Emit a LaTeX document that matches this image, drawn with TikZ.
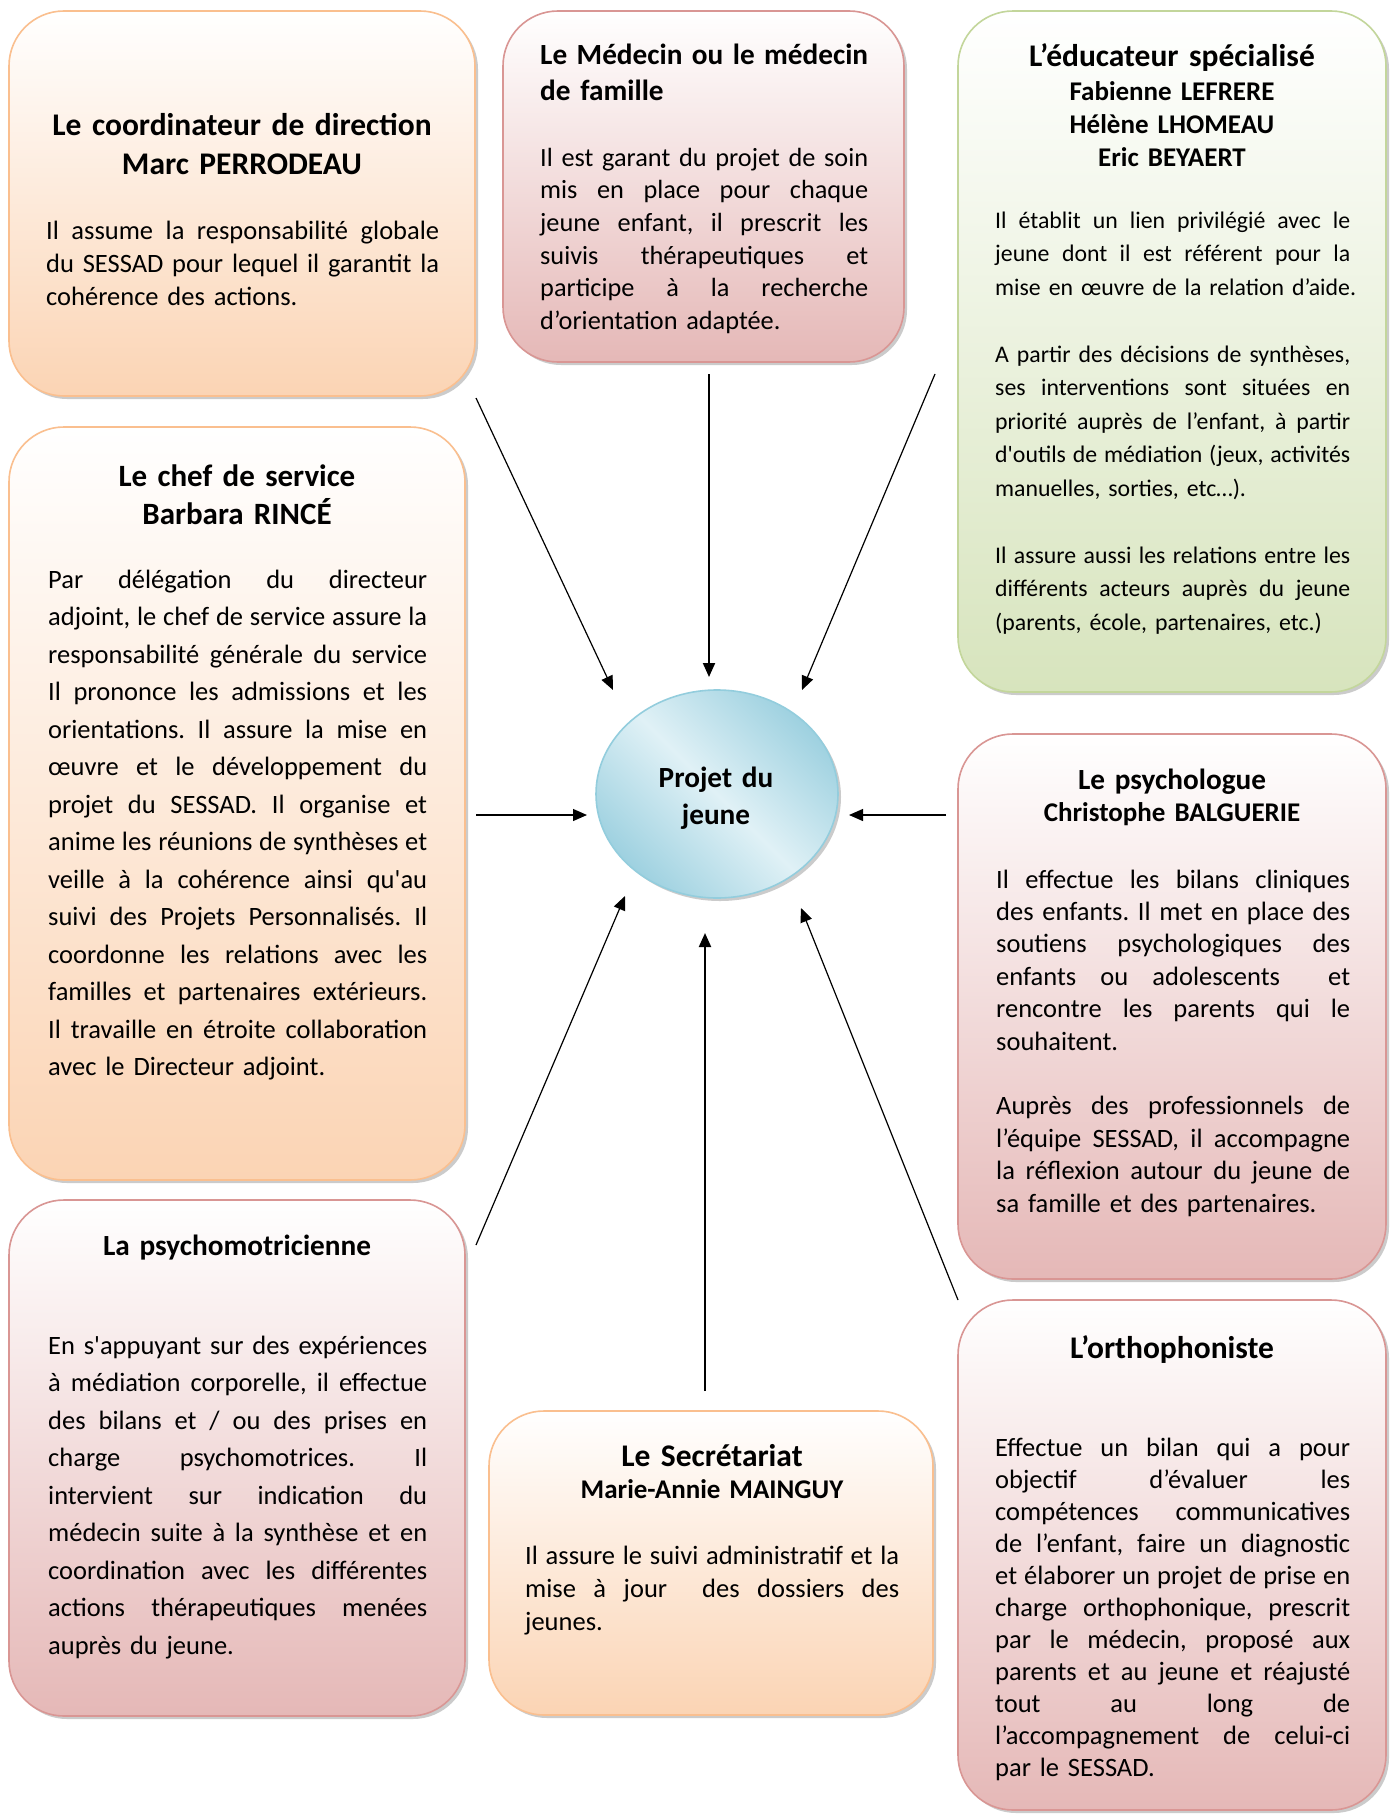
\documentclass[tikz,border=0pt]{standalone}
\usepackage{fontspec}
\setmainfont{Carlito}
\usetikzlibrary{arrows.meta,shapes.geometric,shadows}
\definecolor{orline}{RGB}{250,191,143}
\definecolor{orfill}{RGB}{251,212,180}
\definecolor{pkline}{RGB}{217,150,148}
\definecolor{pkfill}{RGB}{229,184,183}
\definecolor{grline}{RGB}{195,214,155}
\definecolor{grfill}{RGB}{215,228,189}
\definecolor{blline}{RGB}{147,205,221}
\definecolor{bldark}{RGB}{158,209,224}
\definecolor{bllight}{RGB}{224,241,246}
\newdimen\lw
\newcommand\jl[1]{\hbox to\lw{\spaceskip=.226em plus 1fil minus .06em\relax #1}}
\newcommand\lastl[1]{\hbox{#1}}
\newcommand\blankl{\vskip\baselineskip}
\newcommand\sq{\textquotesingle}
\frenchspacing
\tikzset{
  card/.style={rectangle, rounded corners=55pt, line width=1.6pt, inner sep=0pt,
    drop shadow={shadow xshift=3pt, shadow yshift=-3pt, fill=black!40}},
  orcard/.style={card, draw=orline, top color=white, bottom color=orfill},
  pkcard/.style={card, draw=pkline, top color=white, bottom color=pkfill},
  grcard/.style={card, draw=grline, top color=white, bottom color=grfill},
  ttl/.style={inner sep=0pt, anchor=base, text width=420pt, align=center},
  bodytxt/.style={inner sep=0pt, anchor=base west},
  arr/.style={-{Triangle[length=14pt,width=12pt]}, line width=1.2pt},
  varr/.style={arr, line width=2pt},
}
\begin{document}
\begin{tikzpicture}[x=1pt,y=-1pt]
\useasboundingbox (0,0) rectangle (1399,1820);
\fill[white] (0,0) rectangle (1399,1820);

% boxes
\node[orcard, minimum width=466pt, minimum height=385pt] (b1) at (242,203.5) {};
\node[pkcard, minimum width=401pt, minimum height=351pt] (b2) at (703.5,186.5) {};
\node[grcard, minimum width=428pt, minimum height=681pt] (b3) at (1172,351.5) {};
\node[orcard, minimum width=456pt, minimum height=753pt] (b4) at (237,803.5) {};
\node[pkcard, minimum width=428pt, minimum height=545pt] (b5) at (1172,1006.5) {};
\node[pkcard, minimum width=456pt, minimum height=516pt] (b6) at (237,1458) {};
\node[orcard, minimum width=444pt, minimum height=304pt] (b7) at (711,1563) {};
\node[pkcard, minimum width=428pt, minimum height=510pt] (b8) at (1172,1555) {};

% central ellipse
\node[ellipse, minimum width=242pt, minimum height=208pt, inner sep=0pt, draw=blline, line width=1.6pt,
  top color=bldark, bottom color=bldark, middle color=bllight, shading angle=-45,
  drop shadow={shadow xshift=3pt, shadow yshift=-3pt, fill=black!40}] (ell) at (717,794) {};
\node[ttl, text width=200pt, font={\fontsize{29.25}{37}\selectfont\bfseries}] (ellt) at (716,787) {Projet du\\jeune};

% box 1
\node[ttl, font={\fontsize{31.5}{39}\selectfont\bfseries}] (b1t) at (242,135) {Le coordinateur de direction\\Marc PERRODEAU};
\node[bodytxt, text width=393pt, font={\fontsize{26.5}{33}\selectfont}] (b1b) at (46,239) {\lw=393pt
\jl{Il assume la responsabilité globale}
\jl{du SESSAD pour lequel il garantit la}
\lastl{cohérence des actions.}};

% box 2
\node[bodytxt, text width=328pt, font={\fontsize{29.25}{36}\selectfont\bfseries}] (b2t) at (540,64) {\lw=328pt
\jl{Le Médecin ou le médecin}
\lastl{de famille}};
\node[bodytxt, text width=328pt, font={\fontsize{26.3}{32.7}\selectfont}] (b2b) at (540,166) {\lw=328pt
\jl{Il est garant du projet de soin}
\jl{mis en place pour chaque}
\jl{jeune enfant, il prescrit les}
\jl{suivis thérapeutiques et}
\jl{participe à la recherche}
\lastl{d’orientation adaptée.}};

% box 3
\node[ttl, font={\fontsize{31.5}{39}\selectfont\bfseries}] (b3t) at (1172,66) {L’éducateur spécialisé};
\node[ttl, font={\fontsize{27}{33}\selectfont\bfseries}] (b3n) at (1172,100) {Fabienne LEFRERE\\Hélène LHOMEAU\\Eric BEYAERT};
\node[bodytxt, text width=355pt, font={\fontsize{23.8}{33.5}\selectfont}] (b3b) at (995,228) {\lw=355pt
\jl{Il établit un lien privilégié avec le}
\jl{jeune dont il est référent pour la}
\lastl{mise en œuvre de la relation d’aide.}
\blankl
\jl{A partir des décisions de synthèses,}
\jl{ses interventions sont situées en}
\jl{priorité auprès de l’enfant, à partir}
\jl{d\sq outils de médiation (jeux, activités}
\lastl{manuelles, sorties, etc…).}
\blankl
\jl{Il assure aussi les relations entre les}
\jl{différents acteurs auprès du jeune}
\lastl{(parents, école, partenaires, etc.)}};

% box 4
\node[ttl, font={\fontsize{31}{38}\selectfont\bfseries}] (b4t) at (237,486) {Le chef de service\\Barbara RINCÉ};
\node[bodytxt, text width=379pt, font={\fontsize{26.5}{37.5}\selectfont}] (b4b) at (48,588) {\lw=379pt
\jl{Par délégation du directeur}
\jl{adjoint, le chef de service assure la}
\jl{responsabilité générale du service}
\jl{Il prononce les admissions et les}
\jl{orientations. Il assure la mise en}
\jl{œuvre et le développement du}
\jl{projet du SESSAD. Il organise et}
\jl{anime les réunions de synthèses et}
\jl{veille à la cohérence ainsi qu\sq au}
\jl{suivi des Projets Personnalisés. Il}
\jl{coordonne les relations avec les}
\jl{familles et partenaires extérieurs.}
\jl{Il travaille en étroite collaboration}
\lastl{avec le Directeur adjoint.}};

% box 5
\node[ttl, font={\fontsize{29.25}{36}\selectfont\bfseries}] (b5t) at (1172,789) {Le psychologue};
\node[ttl, font={\fontsize{27}{33}\selectfont\bfseries}] (b5n) at (1172,821) {Christophe BALGUERIE};
\node[bodytxt, text width=354pt, font={\fontsize{26.5}{32.4}\selectfont}] (b5b) at (996,888) {\lw=354pt
\jl{Il effectue les bilans cliniques}
\jl{des enfants. Il met en place des}
\jl{soutiens psychologiques des}
\jl{enfants ou adolescents\ \ et}
\jl{rencontre les parents qui le}
\lastl{souhaitent.}
\blankl
\jl{Auprès des professionnels de}
\jl{l’équipe SESSAD, il accompagne}
\jl{la réflexion autour du jeune de}
\lastl{sa famille et des partenaires.}};

% box 6
\node[ttl, font={\fontsize{29.25}{36}\selectfont\bfseries}] (b6t) at (237,1255) {La psychomotricienne};
\node[bodytxt, text width=379pt, font={\fontsize{26.5}{37.5}\selectfont}] (b6b) at (48,1354) {\lw=379pt
\jl{En s\sq appuyant sur des expériences}
\jl{à médiation corporelle, il effectue}
\jl{des bilans et / ou des prises en}
\jl{charge psychomotrices. Il}
\jl{intervient sur indication du}
\jl{médecin suite à la synthèse et en}
\jl{coordination avec les différentes}
\jl{actions thérapeutiques menées}
\lastl{auprès du jeune.}};

% box 7
\node[ttl, font={\fontsize{31.5}{39}\selectfont\bfseries}] (b7t) at (712,1466) {Le Secrétariat};
\node[ttl, font={\fontsize{27}{33}\selectfont\bfseries}] (b7n) at (712,1498) {Marie-Annie MAINGUY};
\node[bodytxt, text width=374pt, font={\fontsize{26.5}{33}\selectfont}] (b7b) at (525,1564) {\lw=374pt
\jl{Il assure le suivi administratif et la}
\jl{mise à jour\ \ des dossiers des}
\lastl{jeunes.}};

% box 8
\node[ttl, font={\fontsize{31.5}{39}\selectfont\bfseries}] (b8t) at (1172,1358) {L’orthophoniste};
\node[bodytxt, text width=355pt, font={\fontsize{26.5}{32}\selectfont}] (b8b) at (995,1456) {\lw=355pt
\jl{Effectue un bilan qui a pour}
\jl{objectif d’évaluer les}
\jl{compétences communicatives}
\jl{de l’enfant, faire un diagnostic}
\jl{et élaborer un projet de prise en}
\jl{charge orthophonique, prescrit}
\jl{par le médecin, proposé aux}
\jl{parents et au jeune et réajusté}
\jl{tout au long de}
\jl{l’accompagnement de celui-ci}
\lastl{par le SESSAD.}};

% arrow end points
\coordinate (t1) at (476,398);  \coordinate (h1) at (613,690);
\coordinate (t2) at (709,374);  \coordinate (h2) at (709,677);
\coordinate (t3) at (935,374);  \coordinate (h3) at (802,690);
\coordinate (t4) at (476,815);  \coordinate (h4) at (587,815);
\coordinate (t5) at (946,815);  \coordinate (h5) at (849,815);
\coordinate (t6) at (476,1245); \coordinate (h6) at (625,896);
\coordinate (t7) at (705,1391); \coordinate (h7) at (705,933);
\coordinate (t8) at (958,1300); \coordinate (h8) at (801,908);

\draw[arr] (t1) -- (h1);
\draw[varr] (t2) -- (h2);
\draw[arr] (t3) -- (h3);
\draw[arr] (t4) -- (h4);
\draw[arr] (t5) -- (h5);
\draw[arr] (t6) -- (h6);
\draw[varr] (t7) -- (h7);
\draw[arr] (t8) -- (h8);
\end{tikzpicture}
\end{document}
